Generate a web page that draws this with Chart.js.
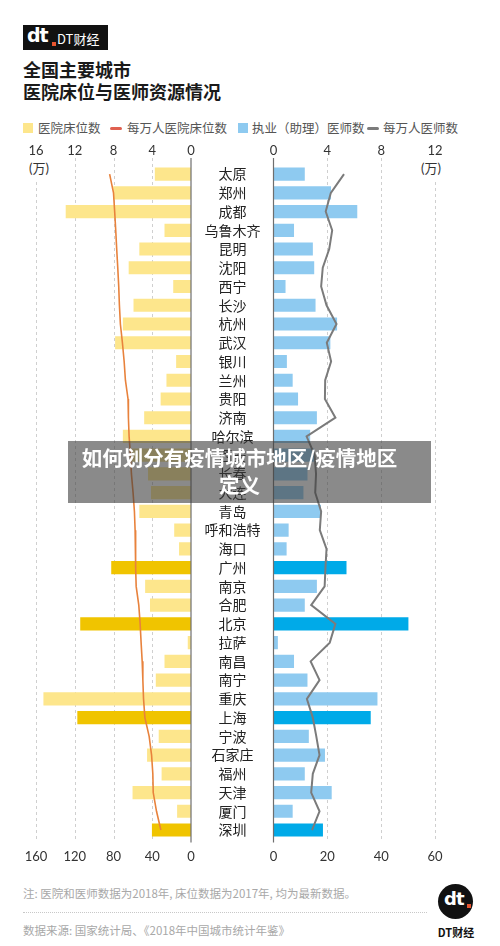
<!DOCTYPE html>
<html>
<head>
<meta charset="utf-8">
<script src="https://cdn.jsdelivr.net/npm/chart.js@4.4.1/dist/chart.umd.min.js"></script>
<style>
  html, body { margin: 0; padding: 0; background: #fff; }
  body { width: 500px; height: 946px; position: relative; overflow: hidden;
         font-family: "Noto Sans CJK SC", "Noto Sans", sans-serif; color: #222; }
  .abs { position: absolute; white-space: nowrap; }
  canvas { position: absolute; }
  .logo { left: 23px; top: 25px; width: 85px; height: 25px; background: #111; }
  .dt { position: absolute; font-family: "DejaVu Sans", sans-serif; font-weight: 900; color: #fff; letter-spacing: -1px; }
  .dot { position: absolute; width: 4px; height: 4px; background: #e8552f; }
  .title { left: 23px; top: 58px; font-size: 18px; font-weight: 700; line-height: 22px; color: #1a1a1a; }
  .leg { top: 120px; font-size: 12.5px; color: #555; line-height: 16px; }
  .sq { position: absolute; top: 123px; width: 10px; height: 10px; }
  .ln { position: absolute; top: 126.5px; width: 12px; height: 3px; border-radius: 1.5px; }
  .wan { font-size: 13px; color: #333; background: #fff; line-height: 16px; padding: 2px 0 4px 0; transform: translateX(-50%); font-family: Lato, "Noto Sans CJK SC", sans-serif; }
  .note { left: 23px; font-size: 11.5px; color: #a8a8a8; line-height: 14px; }
  .overlay { left: 68px; top: 441px; width: 363px; height: 62px; background: rgba(60,60,60,0.6); }
  .ovtext { position: absolute; left: -10px; width: 363px; text-align: center; color: #fff; font-weight: 700; font-size: 20.5px; line-height: 27px; top: 3px; }
</style>
</head>
<body>
<div class="abs logo">
  <span class="dt" style="left:4px; top:-1px; font-size:19px;">dt</span>
  <span class="dot" style="left:29px; top:17px;"></span>
  <span class="abs" style="left:34px; top:4px; font-size:13px; color:#fff;">DT财经</span>
</div>
<div class="abs title">全国主要城市<br>医院床位与医师资源情况</div>

<span class="sq" style="left:23px; background:#fde68c;"></span>
<span class="abs leg" style="left:38px;">医院床位数</span>
<span class="ln" style="left:110px; background:#e06050;"></span>
<span class="abs leg" style="left:127px;">每万人医院床位数</span>
<span class="sq" style="left:238px; background:#8ecaf0;"></span>
<span class="abs leg" style="left:252px;">执业（助理）医师数</span>
<span class="ln" style="left:367px; background:#7b7b7b;"></span>
<span class="abs leg" style="left:383px;">每万人医师数</span>

<canvas id="cL" width="200" height="730" style="left:0; top:140px; width:200px; height:730px;"></canvas>
<canvas id="cR" width="309" height="730" style="left:191px; top:140px; width:309px; height:730px;"></canvas>

<div class="abs wan" style="left:39px; top:158px;">(万)</div>
<div class="abs wan" style="left:431px; top:158px;">(万)</div>

<div class="abs overlay">
  <div class="ovtext">如何划分有疫情城市地区/疫情地区<br>定义</div>
</div>

<div class="abs note" style="top:886px;">注: 医院和医师数据为2018年, 床位数据为2017年, 均为最新数据。</div>
<div class="abs" style="left:23px; top:912px; width:404px; border-top:1px dotted #c8c8c8;"></div>
<div class="abs note" style="top:923px;">数据来源: 国家统计局、《2018年中国城市统计年鉴》</div>

<div class="abs" style="left:438px; top:884px; width:35px; height:35px; border-radius:50%; background:#111;">
  <span class="dt" style="left:6px; top:4px; font-size:18px;">dt</span>
  <span class="dot" style="left:29px; top:20px; width:4px; height:4px;"></span>
</div>
<div class="abs" style="left:436px; top:924px; width:40px; text-align:center; font-size:11px; font-weight:700; color:#111;">DT财经</div>

<script>
// ---------- data ----------
const cities = ['太原','郑州','成都','乌鲁木齐','昆明','沈阳','西宁','长沙','杭州','武汉','银川','兰州','贵阳','济南','哈尔滨','西安','长春','大连','青岛','呼和浩特','海口','广州','南京','合肥','北京','拉萨','南昌','南宁','重庆','上海','宁波','石家庄','福州','天津','厦门','深圳'];
const hospitalBeds = [3.7, 8.0, 12.9, 2.7, 5.3, 6.4, 1.8, 5.9, 7.0, 7.8, 1.5, 2.5, 3.1, 4.8, 7.0, 6.1, 4.4, 4.1, 5.3, 1.7, 1.2, 8.2, 4.7, 4.2, 11.4, 0.3, 2.7, 3.6, 15.2, 11.7, 3.3, 4.5, 3.0, 6.0, 1.4, 4.0];
const bedsPer10k = [84, 80, 78.8, 77.7, 76.7, 75.6, 74.6, 73.9, 72.9, 70.8, 69, 67.7, 65, 64.6, 63.9, 62.5, 61.5, 59.8, 58.4, 57.7, 57.3, 57, 56.6, 53.9, 52.5, 51.5, 50.4, 49.7, 49, 47.6, 43.2, 40.7, 39.4, 39, 35.6, 31.1];
const doctors = [2.3, 4.25, 6.2, 1.5, 2.9, 3.0, 0.87, 3.1, 4.7, 4.2, 0.97, 1.4, 1.8, 3.2, 2.7, 3.0, 2.5, 2.2, 3.5, 1.1, 0.95, 5.4, 3.2, 2.3, 10.0, 0.3, 1.5, 2.5, 7.7, 7.2, 2.6, 3.8, 2.3, 4.3, 1.4, 3.65];
const doctorsPer10k = [26.2, 21.3, 19.4, 21.8, 20.7, 18.3, 17.7, 19.7, 23.4, 19.8, 21.4, 19.2, 19.1, 23.0, 12.3, 15.3, 15.8, 15.5, 17.7, 17.2, 19.7, 19.3, 19.0, 14.0, 23.0, 20.9, 13.8, 17.1, 12.4, 14.6, 15.9, 17.1, 14.6, 14.0, 17.1, 14.3];
const highlighted = ['广州','北京','上海','深圳'];
const bedTicksTop = [0, 4, 8, 12, 16];
const bedTicksBottom = [0, 40, 80, 120, 160];
const docTicksTop = [0, 4, 8, 12];
const docTicksBottom = [0, 20, 40, 60];

// ---------- styling ----------
const CANVAS_TOP = 140;
const YELLOW_L = '#fde68c', YELLOW_D = '#f0c400';
const BLUE_L = '#8ecaf0', BLUE_D = '#00aae8';
const ORANGE = '#e8823c', GREY = '#7b7b7b';
const tickFont = { family: 'Lato, "Noto Sans", sans-serif', size: 13 };

Chart.defaults.font.family = '"Noto Sans CJK SC", "Noto Sans", sans-serif';

const gridPlugin = {
  id: 'gridLines',
  beforeDatasetsDraw(chart, args, opts) {
    const s = chart.scales[opts.scaleId];
    const ctx = chart.ctx, a = chart.chartArea;
    ctx.save();
    ctx.strokeStyle = '#cfcfcf'; ctx.lineWidth = 1; ctx.setLineDash([3, 3]);
    opts.values.forEach(v => {
      if (v === 0) return;
      const x = Math.round(s.getPixelForValue(v)) + 0.5;
      ctx.beginPath(); ctx.moveTo(x, 158 - CANVAS_TOP); ctx.lineTo(x, a.bottom + 2); ctx.stroke();
    });
    ctx.restore();
  },
  afterDatasetsDraw(chart, args, opts) {
    const s = chart.scales[opts.scaleId];
    const ctx = chart.ctx, a = chart.chartArea;
    ctx.save();
    ctx.strokeStyle = '#6e6e6e'; ctx.lineWidth = 1.2;
    const x = s.getPixelForValue(0);
    ctx.beginPath(); ctx.moveTo(x, 158 - CANVAS_TOP); ctx.lineTo(x, a.bottom + 3); ctx.stroke();
    ctx.restore();
  }
};

function xAxis(pos, min, max, step, reverse, values) {
  return {
    type: 'linear', position: pos, min: min, max: max, reverse: reverse,
    afterBuildTicks: s => { s.ticks = values.map(v => ({ value: v })); },
    ticks: { font: tickFont, color: '#333', padding: pos === 'top' ? 6 : 10, maxRotation: 0 },
    grid: { display: false, drawTicks: false },
    border: { display: false },
    afterFit: s => { s.height = pos === 'top' ? 24.7 : 30.6; }
  };
}

const barColor = (light, dark) => ctx => highlighted.includes(cities[ctx.dataIndex]) ? dark : light;

new Chart(document.getElementById('cL'), {
  type: 'bar',
  data: {
    labels: cities,
    datasets: [
      { type: 'line', indexAxis: 'y', data: bedsPer10k, xAxisID: 'xPer', yAxisID: 'y',
        borderColor: ORANGE, borderWidth: 1.6, pointRadius: 0, tension: 0, order: 0 },
      { type: 'bar', indexAxis: 'y', data: hospitalBeds, xAxisID: 'xTop', yAxisID: 'y',
        backgroundColor: barColor(YELLOW_L, YELLOW_D), barThickness: 12.5, order: 1 }
    ]
  },
  options: {
    indexAxis: 'y', responsive: false, animation: false,
    layout: { padding: { left: 36, right: 9, top: 0, bottom: 0 } },
    plugins: { legend: { display: false }, tooltip: { enabled: false },
               gridLines: { scaleId: 'xTop', values: bedTicksTop } },
    scales: {
      y: { type: 'category', display: false, offset: true },
      xTop: xAxis('top', 0, 16, 4, true, bedTicksTop),
      xPer: xAxis('bottom', 0, 160, 40, true, bedTicksBottom)
    }
  },
  plugins: [gridPlugin]
});

new Chart(document.getElementById('cR'), {
  type: 'bar',
  data: {
    labels: cities,
    datasets: [
      { type: 'line', indexAxis: 'y', data: doctorsPer10k, xAxisID: 'xPer', yAxisID: 'y',
        borderColor: GREY, borderWidth: 2, pointRadius: 0, tension: 0, order: 0 },
      { type: 'bar', indexAxis: 'y', data: doctors, xAxisID: 'xTop', yAxisID: 'y',
        backgroundColor: barColor(BLUE_L, BLUE_D), barThickness: 12.5, order: 1 }
    ]
  },
  options: {
    indexAxis: 'y', responsive: false, animation: false,
    layout: { padding: { left: 0, right: 65, top: 0, bottom: 0 } },
    plugins: { legend: { display: false }, tooltip: { enabled: false },
               gridLines: { scaleId: 'xTop', values: docTicksTop } },
    scales: {
      y: { type: 'category', position: 'left', offset: true,
           grid: { display: false, drawTicks: false }, border: { display: false },
           ticks: { crossAlign: 'center', padding: 13, autoSkip: false, color: '#222',
                    font: { family: '"Noto Sans CJK SC", sans-serif', size: 14 } },
           afterFit: s => { s.width = 82.5; } },
      xTop: xAxis('top', 0, 12, 4, false, docTicksTop),
      xPer: xAxis('bottom', 0, 60, 20, false, docTicksBottom)
    }
  },
  plugins: [gridPlugin]
});
</script>
</body>
</html>
